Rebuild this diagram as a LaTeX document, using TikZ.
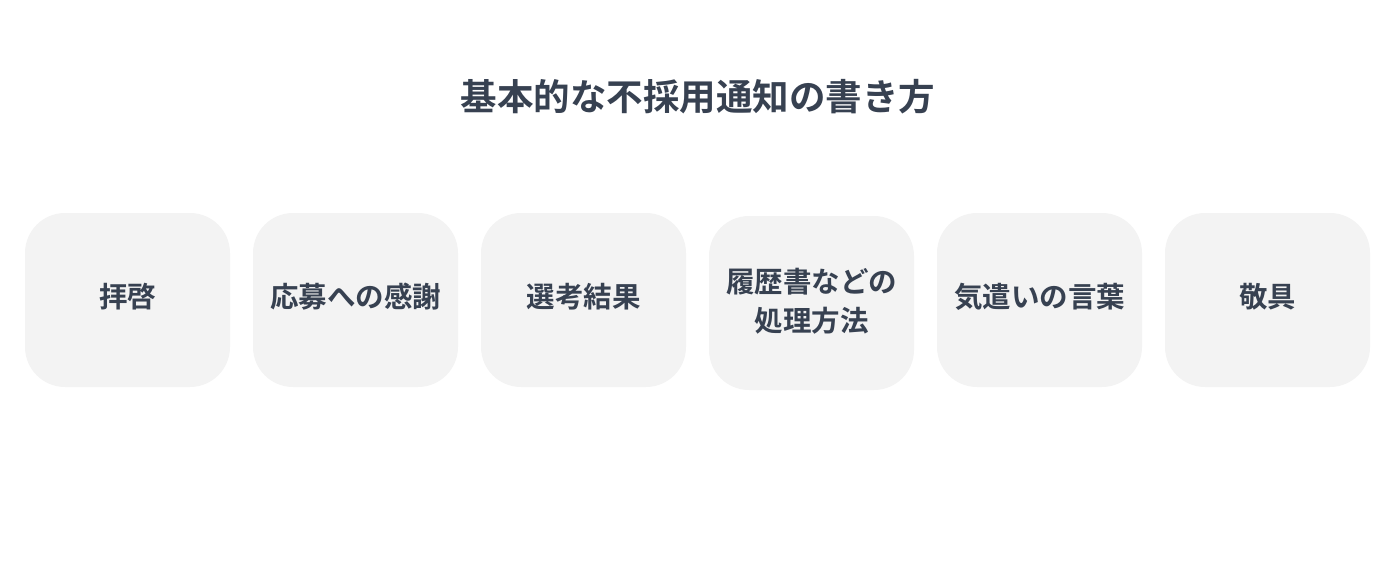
\documentclass[tikz,border=0pt]{standalone}
\usepackage{fontspec}
\newfontfamily\cjk{Noto Sans CJK JP}[BoldFont={Noto Sans CJK JP Bold}]
\definecolor{txt}{HTML}{374151}
\definecolor{boxfill}{HTML}{F3F3F3}
\begin{document}
\begin{tikzpicture}[x=1pt,y=-1pt,
  card/.style={rectangle, rounded corners=40pt, fill=boxfill, draw=none,
    minimum width=205pt, minimum height=174pt, inner sep=0pt},
  cardtext/.style={inner sep=0pt, align=center, text=txt,
    font=\cjk\bfseries\fontsize{28.5}{39}\selectfont},
  heading/.style={text=txt, font=\cjk\bfseries\fontsize{36.5}{44}\selectfont, inner sep=0pt}]
\useasboundingbox (0,0) rectangle (1396,588);
\node[heading] (title) at (698,97) {基本的な不採用通知の書き方};
\node[card] (c1) at (127.5,300) {};
\node[card] (c2) at (355.5,300) {};
\node[card] (c3) at (583.5,300) {};
\node[card] (c4) at (811.5,303) {};
\node[card] (c5) at (1039.5,300) {};
\node[card] (c6) at (1267.5,300) {};
\node[cardtext] (t1) at ([yshift=3pt]c1.center) {拝啓};
\node[cardtext] (t2) at ([yshift=3pt]c2.center) {応募への感謝};
\node[cardtext] (t3) at ([yshift=3pt]c3.center) {選考結果};
\node[cardtext] (t4) at ([yshift=2pt]c4.center) {履歴書などの\\処理方法};
\node[cardtext] (t5) at ([yshift=3pt]c5.center) {気遣いの言葉};
\node[cardtext] (t6) at ([yshift=3pt]c6.center) {敬具};
\end{tikzpicture}
\end{document}
